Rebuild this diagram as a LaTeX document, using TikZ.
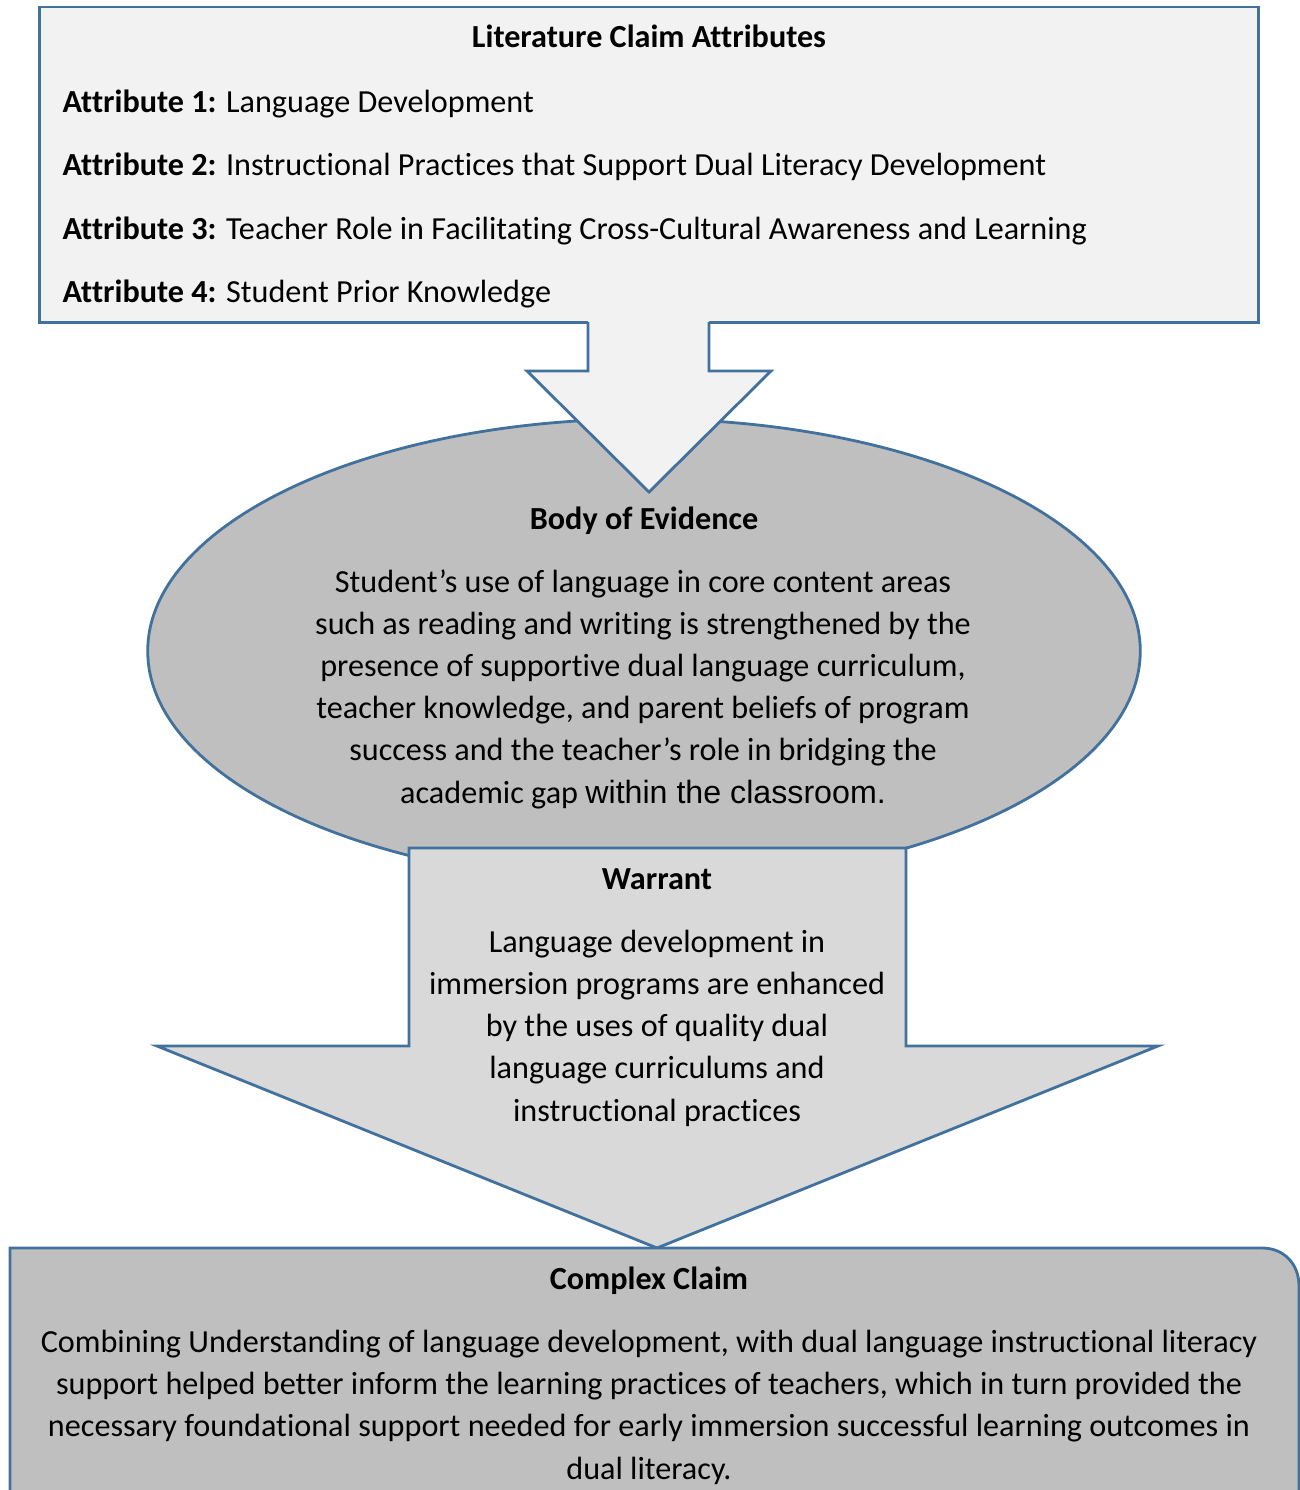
\documentclass[tikz,border=0pt]{standalone}
\usepackage{fontspec}
\setmainfont{Carlito}[Ligatures={NoCommon}]
\newfontfamily\arialfont{Liberation Sans}
\usetikzlibrary{shapes.geometric}
\definecolor{edgeblue}{RGB}{65,113,156}
\definecolor{lightfill}{RGB}{242,242,242}
\definecolor{midfill}{RGB}{217,217,217}
\definecolor{darkfill}{RGB}{191,191,191}
\newcommand{\bodysize}{\fontsize{9.15}{11.95}\selectfont}

\begin{document}
\begin{tikzpicture}[x=0.01cm, y=-0.01cm,
  outline/.style={draw=edgeblue, line width=0.8pt},
  head/.style={font=\bodysize\bfseries, anchor=base, inner sep=0pt},
  attr/.style={font=\bodysize, anchor=base west, inner sep=0pt},
  para/.style={font=\bodysize, align=center, anchor=base, inner sep=0pt}
]
\useasboundingbox (0,0) rectangle (1300,1490);

% shapes
\node[outline, fill=lightfill, minimum width=12.18cm, minimum height=3.15cm] (lit) at (649,164.5) {};
\node[outline, fill=darkfill, ellipse, minimum width=9.92cm, minimum height=4.64cm, inner sep=0pt] (evid) at (644,651) {};
\fill[lightfill] (588,316) -- (588,371) -- (527,371) -- (649,492) -- (771,371) -- (709,371) -- (709,316) -- cycle;
\draw[outline] (588,322) -- (588,371) -- (527,371) -- (649,492) -- (771,371) -- (709,371) -- (709,322);
\draw[outline, fill=midfill] (409,848) -- (906,848) -- (906,1046) -- (1158,1046) -- (657,1248) -- (157,1046) -- (409,1046) -- cycle;
\draw[outline, fill=darkfill] (10,1500) -- (10,1248) -- (1262,1248) .. controls (1284,1248) and (1299,1264) .. (1299,1286) -- (1299,1500);

% top box
\node[head] (lithead) at (649,47) {Literature Claim Attributes};
\node[attr] (attr1) at (62,112) {\textbf{Attribute 1:} Language Development};
\node[attr] (attr2) at (62,175) {\textbf{Attribute 2:} Instructional Practices that Support Dual Literacy Development};
\node[attr] (attr3) at (62,239) {\textbf{Attribute 3:} Teacher Role in Facilitating Cross-Cultural Awareness and Learning};
\node[attr] (attr4) at (62,302) {\textbf{Attribute 4:} Student Prior Knowledge};

% ellipse (base = last line)
\node[head] (evidhead) at (644,529) {Body of Evidence};
\node[para] (evidtext) at (643,803) {Student’s use of language in core content areas\\
  such as reading and writing is strengthened by the\\
  presence of supportive dual language curriculum,\\
  teacher knowledge, and parent beliefs of program\\
  success and the teacher’s role in bridging the\\
  academic gap {\arialfont within the classroom.}};

% warrant
\node[head] (warhead) at (657,889) {Warrant};
\node[para] (wartext) at (657,1121) {Language development in\\
  immersion programs are enhanced\\
  by the uses of quality dual\\
  language curriculums and\\
  instructional practices};

% claim
\node[head] (claimhead) at (649,1289) {Complex Claim};
\node[para] (claimtext) at (649,1479) {Combining Understanding of language development, with dual language instructional literacy\\
  support helped better inform the learning practices of teachers, which in turn provided the\\
  necessary foundational support needed for early immersion successful learning outcomes in\\
  dual literacy.};
\end{tikzpicture}
\end{document}
